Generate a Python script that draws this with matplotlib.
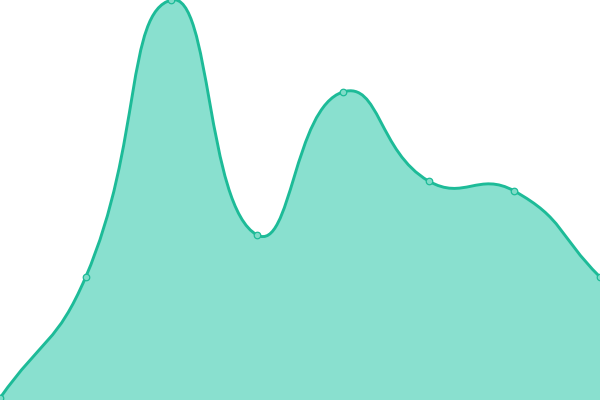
import numpy as np
import matplotlib
matplotlib.use("Agg")
import matplotlib.pyplot as plt
from matplotlib.path import Path
from matplotlib.patches import PathPatch

# values (pixel heights above the bottom edge)
positions = [0, 1, 2, 3, 4, 5, 6, 7]
values = [2, 123, 400, 165, 308, 219, 209, 123]

LINE = "#1dbb98"
FILL = "#89e0cf"
MARKER_FILL = "#7fdcc8"

W, H = 600, 400
SMOOTH = 0.5


def smooth_path(xs, ys):
    # echarts-like bezier smoothing, computed in pixel space
    sx = W / (len(xs) - 1)
    px = np.array(xs, float) * sx
    py = np.array(ys, float)
    n = len(px)
    verts = [(px[0], py[0])]
    codes = [Path.MOVETO]
    cp_out = []
    cp_in = []
    for i in range(n):
        prev_i = max(i - 1, 0)
        next_i = min(i + 1, n - 1)
        vx = px[next_i] - px[prev_i]
        vy = py[next_i] - py[prev_i]
        d0 = np.hypot(px[i] - px[prev_i], py[i] - py[prev_i])
        d1 = np.hypot(px[next_i] - px[i], py[next_i] - py[i])
        r = d1 / (d0 + d1) if d0 + d1 > 0 else 0.5
        cp_in.append((px[i] - vx * SMOOTH * (1 - r), py[i] - vy * SMOOTH * (1 - r)))
        cp_out.append((px[i] + vx * SMOOTH * r, py[i] + vy * SMOOTH * r))
    for i in range(1, n):
        verts += [cp_out[i - 1], cp_in[i], (px[i], py[i])]
        codes += [Path.CURVE4] * 3
    verts = [(x / sx, y) for x, y in verts]
    return verts, codes


fig = plt.figure(figsize=(6, 4), dpi=100)
ax = fig.add_axes([0, 0, 1, 1])
ax.set_xlim(0, 7)
ax.set_ylim(0, 400)
ax.axis("off")

verts, codes = smooth_path(positions, values)

# area under the curve
area_verts = verts + [(positions[-1], 0), (positions[0], 0), verts[0]]
area_codes = codes + [Path.LINETO, Path.LINETO, Path.CLOSEPOLY]
ax.add_patch(PathPatch(Path(area_verts, area_codes), facecolor=FILL, edgecolor="none"))

# smooth line
ax.add_patch(PathPatch(Path(verts, codes), facecolor="none", edgecolor=LINE, lw=2.1,
                       capstyle="round", joinstyle="round"))

ax.scatter(positions, values, s=22, facecolor=MARKER_FILL, edgecolor=LINE,
           linewidths=0.9, zorder=5, clip_on=True)

fig.savefig("out.png", dpi=100)
